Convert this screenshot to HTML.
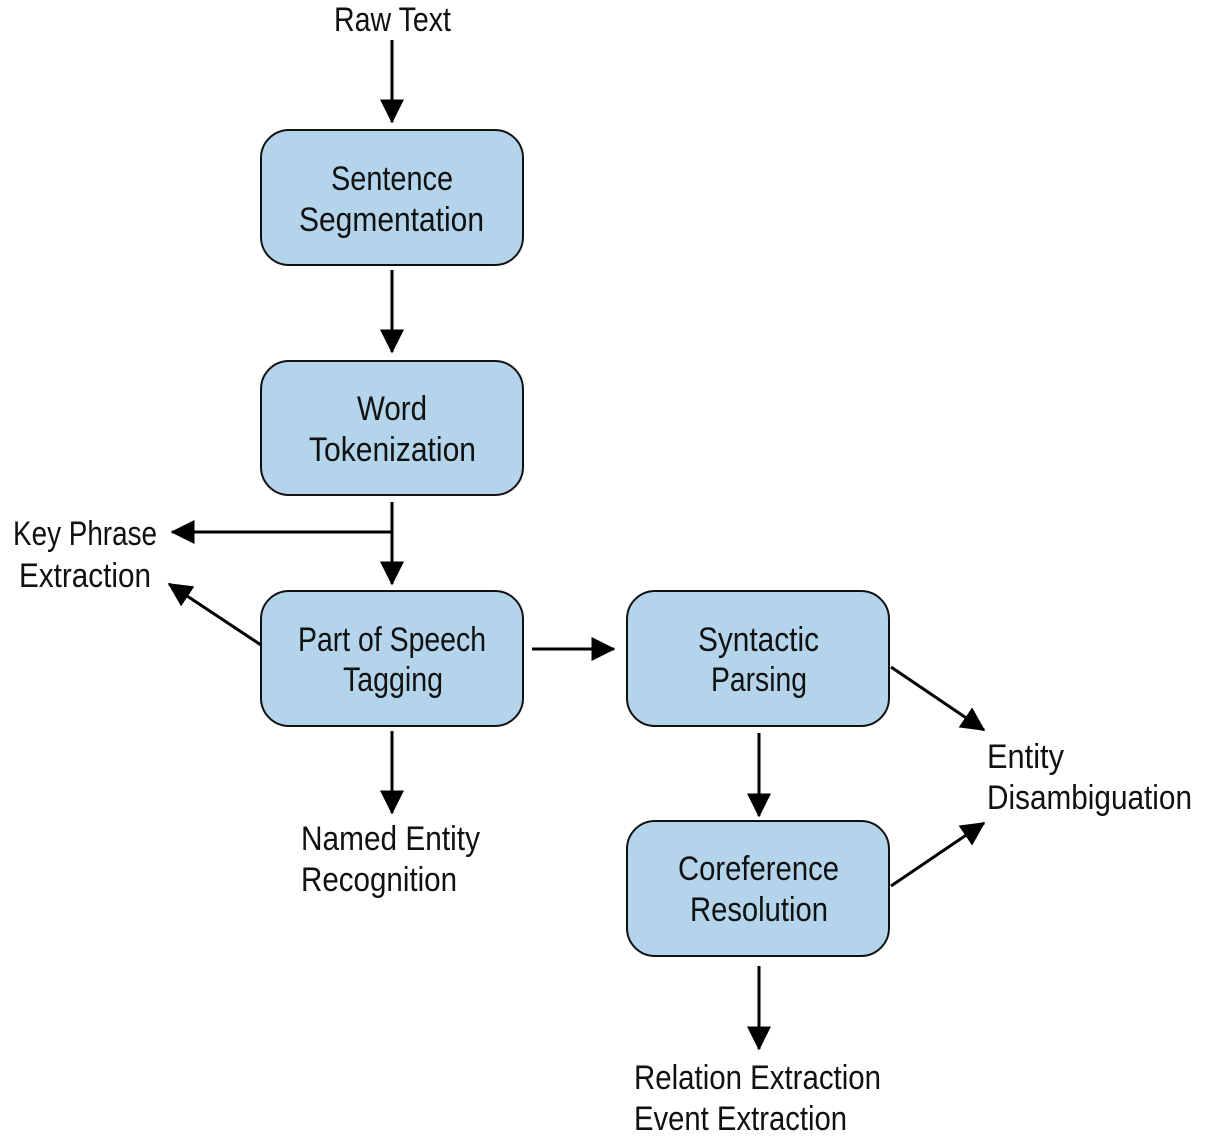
<!DOCTYPE html>
<html><head><meta charset="utf-8"><style>html,body{margin:0;padding:0;background:#fff}</style></head><body>
<svg width="1205" height="1139" viewBox="0 0 1205 1139" xmlns="http://www.w3.org/2000/svg">
<defs><marker id="a" markerWidth="8" markerHeight="8" refX="7.5" refY="4" orient="auto" markerUnits="strokeWidth"><path d="M0,0 L8,4 L0,8 z" fill="#000"/></marker></defs>
<g fill="#b3d4ea" stroke="#111" stroke-width="2">
<rect x="261" y="130" width="262" height="135" rx="28"/>
<rect x="261" y="361" width="262" height="134" rx="28"/>
<rect x="261" y="591" width="262" height="135" rx="28"/>
<rect x="627" y="591" width="262" height="135" rx="28"/>
<rect x="627" y="821" width="262" height="135" rx="28"/>
</g>
<g stroke="#000" stroke-width="3" fill="none" marker-end="url(#a)">
<line x1="392" y1="40" x2="392" y2="122"/>
<line x1="392" y1="270" x2="392" y2="352"/>
<line x1="392" y1="502" x2="392" y2="584"/>
<polyline points="392,532 172,532"/>
<line x1="261" y1="645" x2="169" y2="584"/>
<line x1="532" y1="649" x2="614" y2="649"/>
<line x1="392" y1="731" x2="392" y2="813"/>
<line x1="759" y1="733" x2="759" y2="816"/>
<line x1="891" y1="667" x2="984" y2="730"/>
<line x1="891" y1="886" x2="984" y2="823"/>
<line x1="759" y1="966" x2="759" y2="1049"/>
</g>
<g font-family="Liberation Sans Narrow, Liberation Sans, sans-serif" font-size="34" fill="#111" lengthAdjust="spacingAndGlyphs">
<text x="334" y="31" textLength="117" lengthAdjust="spacingAndGlyphs">Raw Text</text>
<text x="331" y="190" textLength="122" lengthAdjust="spacingAndGlyphs">Sentence</text>
<text x="299" y="231" textLength="185" lengthAdjust="spacingAndGlyphs">Segmentation</text>
<text x="357" y="420" textLength="70" lengthAdjust="spacingAndGlyphs">Word</text>
<text x="309" y="461" textLength="167" lengthAdjust="spacingAndGlyphs">Tokenization</text>
<text x="13" y="545" textLength="144" lengthAdjust="spacingAndGlyphs">Key Phrase</text>
<text x="19" y="587" textLength="132" lengthAdjust="spacingAndGlyphs">Extraction</text>
<text x="298" y="651" textLength="188" lengthAdjust="spacingAndGlyphs">Part of Speech</text>
<text x="343" y="691" textLength="100" lengthAdjust="spacingAndGlyphs">Tagging</text>
<text x="698" y="651" textLength="121" lengthAdjust="spacingAndGlyphs">Syntactic</text>
<text x="711" y="691" textLength="96" lengthAdjust="spacingAndGlyphs">Parsing</text>
<text x="987" y="768" textLength="77" lengthAdjust="spacingAndGlyphs">Entity</text>
<text x="987" y="809" textLength="205" lengthAdjust="spacingAndGlyphs">Disambiguation</text>
<text x="301" y="850" textLength="179" lengthAdjust="spacingAndGlyphs">Named Entity</text>
<text x="301" y="891" textLength="156" lengthAdjust="spacingAndGlyphs">Recognition</text>
<text x="678" y="880" textLength="161" lengthAdjust="spacingAndGlyphs">Coreference</text>
<text x="690" y="921" textLength="138" lengthAdjust="spacingAndGlyphs">Resolution</text>
<text x="634" y="1089" textLength="247" lengthAdjust="spacingAndGlyphs">Relation Extraction</text>
<text x="634" y="1130" textLength="213" lengthAdjust="spacingAndGlyphs">Event Extraction</text>
</g>
</svg>
</body></html>
